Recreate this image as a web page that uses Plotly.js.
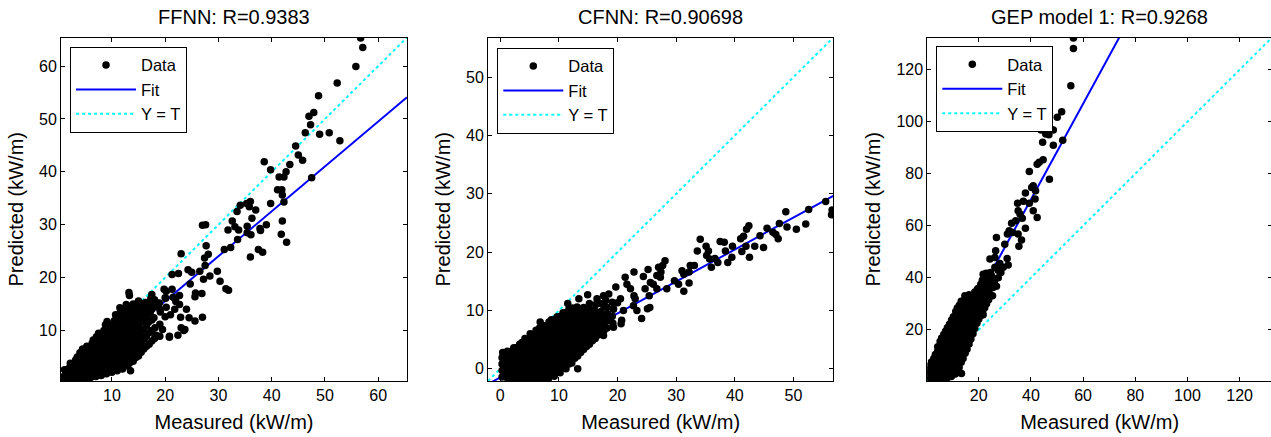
<!DOCTYPE html>
<html><head><meta charset="utf-8">
<script src="https://cdn.plot.ly/plotly-3.0.1.min.js"></script>
<style>html,body{margin:0;padding:0;overflow:hidden;background:#fff}#chart{width:1275px;height:437px}</style>
</head><body><div id="chart"></div><script>
// ---------- DATA ----------
const panelTitles = ['FFNN: R=0.9383', 'CFNN: R=0.90698', 'GEP model 1: R=0.9268'];
const xLabel = 'Measured (kW/m)';
const yLabel = 'Predicted (kW/m)';
const legendNames = ['Data', 'Fit', 'Y = T'];

const ffnnTicks = [10, 20, 30, 40, 50, 60];
const cfnnTicks = [0, 10, 20, 30, 40, 50];
const gepTicks = [20, 40, 60, 80, 100, 120];
const axisLimits = [[0.45, 65.4], [-2.1, 56.8], [0.3, 132.4]];

// regression fit: slope, intercept
const fitSlope = [0.849, 0.548, 1.84];
const fitIntercept = [-1.43, -1.48, -3.5];

// FFNN: [measured, predicted]
const ffnnPoints = [
[0.6,0.5],[0.7,1.2],[0.8,0.9],[1.2,0.6],[1.3,1.6],[1.1,2.6],[1.6,1.1],[1.6,2.1],[2,0.6],[2.1,1.6],[1.9,2.8],[2.2,3.8],[2.5,2.2],[2.5,1.1],[2.5,3.3],
[3,0.7],[3.1,1.9],[2.9,3.1],[3.2,4.4],[3.5,2.6],[3.5,1.3],[3.5,3.9],[3.5,5.0],[4,0.8],[4.1,2.0],[3.9,3.3],[4.2,4.6],[4.0,5.8],[4.5,1.4],
[4.5,2.8],[4.5,4.1],[4.5,5.3],[4.5,6.5],
[5,0.9],[5.1,2.2],[4.9,3.5],[5.2,4.8],[5.0,6.1],[5.3,7.0],[5.5,1.6],[5.5,2.9],[5.5,4.2],[5.5,5.5],[5.5,6.8],
[6,1.1],[6.1,2.4],[5.9,3.7],[6.2,5.0],[6.0,6.3],[6.3,7.6],[6.5,1.8],[6.5,3.1],[6.5,4.4],[6.5,5.7],[6.5,7.0],[6.5,8.2],
[7,1.3],[7.1,2.6],[6.9,3.9],[7.2,5.2],[7.0,6.5],[7.3,7.8],[7.1,8.8],[7.5,2.0],[7.5,3.3],[7.5,4.6],[7.5,5.9],[7.5,7.2],[7.5,8.5],[7.5,9.5],
[8,1.5],[8.1,2.8],[7.9,4.1],[8.2,5.4],[8.0,6.7],[8.3,8.0],[8.1,9.3],[8.5,2.2],[8.5,3.5],[8.5,4.8],[8.5,6.1],[8.5,7.4],[8.5,8.7],[8.5,10.0],
[9,1.8],[9.1,3.1],[8.9,4.4],[9.2,5.7],[9.0,7.0],[9.3,8.3],[9.1,9.6],[9.2,10.6],
[9.5,2.5],[9.5,3.8],[9.5,5.1],[9.5,6.4],[9.5,7.7],[9.5,9.0],[9.5,10.3],[9.5,11.2],
[10,2.1],[10.1,3.4],[9.9,4.7],[10.2,6.0],[10.0,7.3],[10.3,8.6],[10.1,9.9],[10.2,11.2],
[10.5,2.8],[10.5,4.1],[10.5,5.4],[10.5,6.7],[10.5,8.0],[10.5,9.3],[10.5,10.6],[10.5,11.9],
[11,2.4],[11.1,3.7],[10.9,5.0],[11.2,6.3],[11.0,7.6],[11.3,8.9],[11.1,10.2],[11.2,11.5],[11.0,12.4],
[11.5,3.1],[11.5,4.4],[11.5,5.7],[11.5,7.0],[11.5,8.3],[11.5,9.6],[11.5,10.9],[11.5,12.2],[11.5,13.3],
[12,2.7],[12.1,4.1],[11.9,5.4],[12.2,6.7],[12.0,8.0],[12.3,9.3],[12.1,10.6],[12.2,11.9],[12.0,13.2],
[12.5,3.6],[12.5,5.0],[12.5,6.3],[12.5,7.6],[12.5,8.9],[12.5,10.2],[12.5,11.5],[12.5,12.8],[12.5,14.0],
[13,3.3],[13.1,4.7],[12.9,6.0],[13.2,7.3],[13.0,8.6],[13.3,9.9],[13.1,11.2],[13.2,12.5],[13.0,13.8],
[13.5,4.0],[13.5,5.4],[13.5,6.7],[13.5,8.0],[13.5,9.3],[13.5,10.6],[13.5,11.9],[13.5,13.2],[13.5,14.5],
[14,4.2],[14.1,5.6],[13.9,7.0],[14.2,8.4],[14.0,9.8],[14.3,11.1],[14.1,12.5],[14.2,13.9],[14.0,15.0],
[14.5,4.9],[14.5,6.3],[14.5,7.7],[14.5,9.1],[14.5,10.5],[14.5,11.8],[14.5,13.2],[14.5,14.6],
[15,5.2],[15.1,6.8],[14.9,8.2],[15.2,9.6],[15.0,11.0],[15.3,12.4],[15.1,13.8],[15.2,15.2],
[15.5,5.9],[15.5,7.5],[15.5,8.9],[15.5,10.3],[15.5,11.7],[15.5,13.1],[15.5,14.5],
[16,6.5],[16.1,8.4],[15.9,10.2],[16.2,12.0],[16.0,13.6],[16.3,15.3],[16.5,7.0],[16.5,9.0],[16.5,10.9],[16.5,12.7],
[17,7.4],[17.1,9.6],[16.9,11.6],[17.2,13.4],[17.0,15.0],[17.5,8.0],[17.5,10.0],[17.5,12.0],[17.5,14.0],
[18,8.5],[18.1,10.5],[17.9,12.4],[18.2,14.6],[18.0,15.8],[19,11.2],[19.1,13.5],[18.9,15.2],[20,12.6],[20.2,14.4],
[56.7,65.3],[57.1,63.5],[55.8,59.9],[52.3,56.8],[48.8,54.4],[47.0,50.5],[47.9,51.2],[47.3,48.9],[46.3,47.4],[49.0,47.1],
[50.8,47.4],[52.8,45.9],[44.5,44.9],[45.0,43.2],[45.8,42.2],[43.4,41.4],[38.6,41.9],[39.8,40.4],[42.7,40.0],[41.4,39.0],
[42.3,39.0],[47.5,38.9],[41.1,36.6],[41.9,36.6],[42.0,35.6],[39.8,34.0],[42.3,34.3],[34.1,33.7],[35.3,34.0],[36.0,34.4],
[33.5,32.5],[37.0,32.8],[35.8,33.4],[36.3,31.2],[32.6,30.7],[35.4,29.7],[31.8,29.0],[33.1,29.6],[33.8,29.0],[27.0,29.9],
[27.6,30.0],[37.8,29.3],[37.9,28.9],[39.0,30.0],[35.4,28.5],[33.6,27.2],[36.1,28.1],[42.0,30.7],[41.8,28.2],[42.8,26.7],
[31.1,25.3],[32.3,25.7],[37.5,25.3],[38.3,24.8],[36.0,23.9],[23.0,24.5],[27.7,26.0],[27.4,23.7],[28.1,24.4],[27.5,22.3],
[24.3,21.5],[25.0,21.0],[29.8,21.2],[26.5,21.2],[28.4,20.3],[27.2,19.7],[30.3,19.3],[24.7,18.8],[31.4,17.9],[31.9,17.6],
[21.3,20.6],[22.5,20.8],[19.8,17.8],[21.3,17.8],[25.7,17.1],[26.9,17.0],[25.6,16.4],[22.7,16.6],[20.1,16.1],[21.5,16.3],
[13.2,17.2],[13.3,16.6],[17.3,16.0],[18.2,15.4],[22.7,14.9],[21.8,14.0],[22.9,12.5],[24.5,12.4],[25.6,11.8],[27.0,12.5],
[23.0,10.5],[22.4,9.1],[20.8,8.7],[19.5,10.2],[23.5,10.0],[18.3,9.1],[13.5,2.4],[9.1,11.7],[8.8,11.1],[10.7,13.0],
[12.7,14.9],[15.0,15.6],[11.5,14.3],[20.8,8.9],[19.0,8.9],[23.7,10.2],[20.2,17.4],[20.0,16.2],[11.8,13.0],[16.5,14.5],
[17.5,16.8],[19.0,14.0],[21.0,13.0],[22.0,15.5],[24.0,14.0]
];

// CFNN: [measured, predicted]
const cfnnPoints = [
[0.3,-1.4],[0.3,-0.3],[0.3,0.8],[0.3,1.9],[0.4,2.8],[0.8,-0.9],[0.8,0.2],[0.8,1.3],[0.8,2.4],
[1.2,-1.6],[1.2,-0.4],[1.1,0.8],[1.3,2.0],[1.2,3.0],[1.7,-1.0],[1.7,0.2],[1.7,1.4],[1.7,2.5],
[2.2,-1.7],[2.1,-0.5],[2.3,0.7],[2.2,1.9],[2.1,3.1],[2.3,3.6],[2.7,-1.1],[2.7,0.1],[2.7,1.3],[2.7,2.5],[2.7,3.6],
[3.2,-1.7],[3.1,-0.5],[3.3,0.7],[3.2,1.9],[3.1,3.1],[3.3,4.2],[3.7,-1.2],[3.7,0.0],[3.7,1.2],[3.7,2.4],[3.7,3.6],[3.7,4.5],
[4.2,-1.8],[4.1,-0.6],[4.3,0.6],[4.2,1.8],[4.1,3.0],[4.3,4.2],[4.2,5.2],[4.7,-1.2],[4.7,0.0],[4.7,1.2],[4.7,2.4],[4.7,3.6],[4.7,4.8],
[5.2,-1.8],[5.1,-0.6],[5.3,0.6],[5.2,1.8],[5.1,3.0],[5.3,4.2],[5.2,5.4],[5.1,6.0],
[5.7,-1.2],[5.7,0.0],[5.7,1.2],[5.7,2.4],[5.7,3.6],[5.7,4.8],[5.7,5.9],
[6.2,-1.8],[6.1,-0.6],[6.3,0.6],[6.2,1.8],[6.1,3.0],[6.3,4.2],[6.2,5.4],[6.1,6.6],
[6.7,-1.3],[6.7,-0.1],[6.7,1.1],[6.7,2.3],[6.7,3.5],[6.7,4.7],[6.7,5.9],[6.7,7.0],
[7.2,-1.9],[7.1,-0.7],[7.3,0.5],[7.2,1.7],[7.1,2.9],[7.3,4.1],[7.2,5.3],[7.1,6.5],[7.3,7.4],
[7.7,-1.3],[7.7,-0.1],[7.7,1.1],[7.7,2.3],[7.7,3.5],[7.7,4.7],[7.7,5.9],[7.7,7.0],
[8.2,-1.7],[8.1,-0.5],[8.3,0.7],[8.2,1.9],[8.1,3.1],[8.3,4.3],[8.2,5.5],[8.1,6.7],[8.3,8.0],
[8.7,-1.0],[8.7,0.2],[8.7,1.4],[8.7,2.6],[8.7,3.8],[8.7,5.0],[8.7,6.2],[8.7,7.4],[8.7,8.4],
[9.2,-1.3],[9.1,-0.1],[9.3,1.1],[9.2,2.3],[9.1,3.5],[9.3,4.7],[9.2,5.9],[9.1,7.1],[9.3,8.4],
[9.7,-0.5],[9.7,0.7],[9.7,1.9],[9.7,3.1],[9.7,4.3],[9.7,5.5],[9.7,6.7],[9.7,7.9],[9.7,8.9],
[10.2,-0.7],[10.1,0.5],[10.3,1.7],[10.2,2.9],[10.1,4.1],[10.3,5.3],[10.2,6.5],[10.1,7.7],[10.3,9.0],
[10.7,0.2],[10.7,1.4],[10.7,2.6],[10.7,3.8],[10.7,5.0],[10.7,6.2],[10.7,7.4],[10.7,8.6],[10.7,9.6],
[11.2,0.0],[11.1,1.2],[11.3,2.4],[11.2,3.6],[11.1,4.8],[11.3,6.0],[11.2,7.2],[11.1,8.4],[11.3,9.6],
[11.7,0.8],[11.7,2.0],[11.7,3.2],[11.7,4.4],[11.7,5.6],[11.7,6.8],[11.7,8.0],[11.7,9.2],[11.7,10.2],
[12.2,1.0],[12.1,2.2],[12.3,3.4],[12.2,4.6],[12.1,5.8],[12.3,7.0],[12.2,8.2],[12.1,9.4],[12.3,10.4],
[12.7,1.8],[12.7,3.0],[12.7,4.2],[12.7,5.4],[12.7,6.6],[12.7,7.8],[12.7,9.0],[12.7,10.2],
[13.2,2.2],[13.1,3.4],[13.3,4.6],[13.2,5.8],[13.1,7.0],[13.3,8.2],[13.2,9.4],[13.1,10.6],
[13.7,2.8],[13.7,4.0],[13.7,5.2],[13.7,6.4],[13.7,7.6],[13.7,8.8],[13.7,10.0],
[14.2,3.3],[14.1,4.5],[14.3,5.7],[14.2,6.9],[14.1,8.1],[14.3,9.3],[14.2,10.5],
[14.7,3.8],[14.7,5.0],[14.7,6.2],[14.7,7.4],[14.7,8.6],[14.7,9.8],
[15.2,4.2],[15.1,5.4],[15.3,6.6],[15.2,7.8],[15.1,9.0],[15.3,10.2],[15.2,11.2],
[15.7,4.8],[15.7,6.0],[15.7,7.2],[15.7,8.4],[15.7,9.6],
[16.2,5.2],[16.1,6.4],[16.3,7.6],[16.2,8.8],[16.1,10.0],[16.3,11.0],[16.7,5.8],[16.7,7.0],[16.7,8.2],[16.7,9.4],
[17.2,6.2],[17.1,7.4],[17.3,8.6],[17.2,9.8],[17.1,11.2],[17.7,6.6],[17.7,7.8],[17.7,9.0],
[18.2,7.0],[18.1,8.2],[18.3,9.4],[18.2,10.5],[19.2,7.8],[19.1,9.0],[19.3,10.2],
[56.6,27.2],[56.5,26.4],[55.5,28.7],[52.6,27.3],[52.1,24.8],[50.5,23.9],[48.7,26.9],[48.9,24.3],[47.6,24.9],[47.0,23.0],
[47.4,22.3],[45.5,24.1],[46.5,23.4],[44.9,20.8],[44.3,22.8],[43.4,21.0],[42.4,24.5],[42.0,23.9],[41.5,22.7],[41.0,22.3],
[41.9,21.0],[42.5,19.1],[41.2,20.1],[39.6,21.0],[39.5,19.1],[38.8,18.2],[38.2,21.7],[38.4,20.2],[37.5,21.8],[37.1,18.2],
[36.6,18.9],[36.0,17.4],[35.7,18.8],[35.2,19.4],[35.1,21.0],[35.5,20.2],[34.1,22.2],[33.6,20.2],[33.1,17.7],[32.4,17.7],
[32.2,16.6],[31.0,16.8],[31.3,16.2],[32.2,14.7],[31.3,13.3],[30.4,14.5],[29.7,15.1],[28.1,18.5],[27.7,17.7],[27.0,17.4],
[27.4,16.6],[26.7,16.0],[27.3,15.7],[28.4,13.7],[26.7,13.7],[26.1,14.5],[25.2,17.0],[24.4,15.8],[25.6,14.8],[25.4,12.5],
[24.7,13.7],[22.8,16.6],[21.3,15.7],[21.6,14.5],[22.2,13.7],[22.8,12.5],[22.7,10.8],[23.3,10.0],[24.1,8.6],[25.1,10.3],
[25.5,10.5],[19.7,14.0],[20.5,12.0],[20.0,11.3],[20.7,8.3],[20.6,7.7],[19.1,11.4],[19.3,10.3],[17.6,12.5],[18.0,11.7],
[17.6,10.9],[14.9,12.7],[13.4,12.0],[11.5,11.2],[13.2,0.0],[6.8,8.0],[18.8,8.8],[19.3,7.1],[17.6,5.7],[16.8,6.8],
[15.9,6.3],[21.0,10.0],[23.0,12.0],[16.5,12.0],[18.5,12.8]
];

// GEP model 1: [measured, predicted]
const gepPoints = [
[0.6,0.6],[0.6,2.5],[0.7,4.5],[1.3,1.7],[1.3,3.9],[1.3,6.2],[2,0.8],[2,3.0],[2.1,5.4],[1.9,7.6],[2.8,2.0],[2.8,4.3],[2.8,6.6],[2.8,9.0],
[3.5,1.0],[3.4,3.4],[3.6,5.8],[3.5,8.2],[3.4,10.5],[4.3,2.2],[4.3,4.6],[4.3,7.0],[4.3,9.4],[4.3,11.8],[4.3,13.5],
[5,1.2],[5.1,3.6],[4.9,6.0],[5,8.4],[5.1,10.8],[4.9,13.2],[5.2,15.5],[5.8,2.4],[5.8,4.8],[5.8,7.2],[5.8,9.6],[5.8,12.0],[5.8,14.4],[5.8,16.8],
[6.5,1.4],[6.6,3.8],[6.4,6.2],[6.5,8.6],[6.6,11.0],[6.4,13.4],[6.5,15.8],[6.6,18.2],
[7.3,2.6],[7.3,5.0],[7.3,7.4],[7.3,9.8],[7.3,12.2],[7.3,14.6],[7.3,17.0],[7.3,19.4],
[8,1.6],[8.1,4.0],[7.9,6.4],[8,8.8],[8.1,11.2],[7.9,13.6],[8,16.0],[8.1,18.4],[8,20.8],
[8.8,2.9],[8.8,5.3],[8.8,7.7],[8.8,10.1],[8.8,12.5],[8.8,14.9],[8.8,17.3],[8.8,19.7],[8.8,22.1],
[9.5,2.0],[9.6,4.4],[9.4,6.8],[9.5,9.2],[9.6,11.6],[9.4,14.0],[9.5,16.4],[9.6,18.8],[9.4,21.2],[9.6,23.8],
[10.3,3.5],[10.3,5.9],[10.3,8.3],[10.3,10.7],[10.3,13.1],[10.3,15.5],[10.3,17.9],[10.3,20.3],[10.3,22.7],[10.3,25.0],
[11,3.0],[11.1,5.4],[10.9,7.8],[11,10.2],[11.1,12.6],[10.9,15.0],[11,17.4],[11.1,19.8],[10.9,22.2],[11,24.8],[11.2,27.0],
[11.8,4.5],[11.8,6.9],[11.8,9.3],[11.8,11.7],[11.8,14.1],[11.8,16.5],[11.8,18.9],[11.8,21.3],[11.8,23.7],[11.8,26.1],[11.8,28.4],
[12.5,5.5],[12.6,7.9],[12.4,10.3],[12.5,12.7],[12.6,15.1],[12.4,17.5],[12.5,19.9],[12.6,22.3],[12.4,24.7],[12.5,27.1],[12.6,29.4],
[13.3,7.5],[13.3,9.9],[13.3,12.3],[13.3,14.7],[13.3,17.1],[13.3,19.5],[13.3,21.9],[13.3,24.3],[13.3,26.7],[13.3,29.1],[13.3,31.0],
[14,9.0],[14.1,11.4],[13.9,13.8],[14,16.2],[14.1,18.6],[13.9,21.0],[14,23.4],[14.1,25.8],[13.9,28.2],[14,30.6],
[14.8,11.0],[14.8,13.4],[14.8,15.8],[14.8,18.2],[14.8,20.6],[14.8,23.0],[14.8,25.4],[14.8,27.8],[14.8,30.2],[14.8,32.0],
[15.5,12.5],[15.6,14.9],[15.4,17.3],[15.5,19.7],[15.6,22.1],[15.4,24.5],[15.5,26.9],[15.6,29.3],[15.4,31.7],
[16.3,14.5],[16.3,16.9],[16.3,19.3],[16.3,21.7],[16.3,24.1],[16.3,26.5],[16.3,28.9],[16.3,31.3],[16.3,33.5],
[17,16.5],[17.1,18.9],[16.9,21.3],[17,23.7],[17.1,26.1],[16.9,28.5],[17,30.9],[17.1,33.0],
[17.8,18.5],[17.8,20.9],[17.8,23.3],[17.8,25.7],[17.8,28.1],[17.8,30.5],[17.8,32.9],
[18.5,20.5],[18.6,22.9],[18.4,25.3],[18.5,27.7],[18.6,30.1],[18.4,32.5],[18.5,34.5],
[19.3,22.5],[19.3,24.9],[19.3,27.3],[19.3,29.7],[19.3,32.1],[19.3,34.5],
[20,24.0],[20.1,26.4],[19.9,28.8],[20,31.2],[20.1,33.6],[19.9,36.0],
[20.8,25.5],[20.8,27.9],[20.8,30.3],[20.8,32.7],[20.8,35.1],[20.8,37.5],
[21.5,27.0],[21.6,29.4],[21.4,31.8],[21.5,34.2],[21.6,37.0],[21.4,39.0],
[22.3,28.5],[22.3,30.9],[22.3,33.3],[22.3,35.7],[22.3,38.2],
[23,30.0],[23.1,32.4],[22.9,35.0],[23,38.0],[23.1,40.5],[23.8,31.5],[23.8,34.0],[23.8,37.0],[23.8,40.0],
[24.5,33.0],[24.6,36.0],[24.4,39.5],[24.5,42.0],
[56.3,132.2],[56.3,128.2],[55.3,113.8],[51.8,103.8],[50.1,101.7],[47.6,97.2],[45.7,95.3],[48.6,96.8],[43.9,96.8],[44.8,97.8],
[46.9,95.0],[52.2,92.9],[48.6,91.0],[44.5,92.1],[42.4,83.7],[43.2,84.4],[44.7,85.4],[39.4,80.9],[47.1,77.9],[40.9,75.4],
[40.3,74.7],[41.8,73.5],[41.6,70.3],[37.9,72.6],[37.1,69.4],[39.4,68.7],[34.9,68.7],[35.1,65.8],[35.8,64.5],[40.9,65.8],
[42.4,63.2],[34.2,61.9],[36.7,62.9],[32.6,61.0],[31.7,58.1],[33.0,57.4],[31.0,56.8],[37.9,59.0],[35.1,56.8],[36.4,54.5],
[35.4,52.1],[26.8,55.5],[30.0,52.9],[26.5,50.4],[24.3,47.2],[26.2,47.8],[30.9,47.4],[28.1,45.5],[29.4,44.0],[31.3,44.9],
[26.2,44.0],[27.4,42.9],[21.7,41.4],[22.9,41.7],[24.9,40.8],[23.6,39.5],[25.5,36.3],[26.8,36.7],[22.0,33.7],[25.3,33.1],
[21.7,25.8],[14.7,33.1],[19.5,35.6],[13.4,3.2],[27.5,40.0],[28.5,42.0],[22.5,37.5],[26.0,38.5]
];

// ---------- BUILD ----------
const FONT = 'Arial, "Liberation Sans", Helvetica, sans-serif';
const W = 1275, H = 437;
const panels = [
  {pts: ffnnPoints, ticks: ffnnTicks, x0: 61, x1: 407},
  {pts: cfnnPoints, ticks: cfnnTicks, x0: 488, x1: 833.3},
  {pts: gepPoints, ticks: gepTicks, x0: 927.3, x1: 1272}
];
const yTop = 37.5, yBot = 381;
const legendBoxes = [[70, 46.7], [497.3, 47.7], [936.3, 46]];

const traces = [];
const layout = {
  width: W, height: H, margin: {l: 0, r: 0, t: 0, b: 0},
  paper_bgcolor: '#fff', plot_bgcolor: '#fff',
  font: {family: FONT, color: '#000'},
  annotations: [], showlegend: true
};

panels.forEach((p, i) => {
  const n = i === 0 ? '' : String(i + 1);
  const xa = 'x' + n, ya = 'y' + n;
  const lim = axisLimits[i];
  const leg = 'legend' + n;
  traces.push({x: lim, y: lim, xaxis: xa, yaxis: ya, mode: 'lines', name: legendNames[2],
    line: {color: '#00ffff', width: 2, dash: 'dot'}, legend: leg, legendrank: 3, hoverinfo: 'skip'});
  traces.push({x: lim, y: lim.map(v => fitSlope[i] * v + fitIntercept[i]), xaxis: xa, yaxis: ya, mode: 'lines',
    name: legendNames[1], line: {color: '#0000ff', width: 2}, legend: leg, legendrank: 2, hoverinfo: 'skip'});
  traces.push({x: p.pts.map(d => d[0]), y: p.pts.map(d => d[1]), xaxis: xa, yaxis: ya, mode: 'markers',
    name: legendNames[0], marker: {color: '#000', size: 7.5, line: {width: 0}}, legend: leg, legendrank: 1,
    cliponaxis: true});

  const common = {range: lim, tickvals: p.ticks, ticks: 'inside', ticklen: 4, tickcolor: '#000',
    mirror: 'ticks', showline: true, linecolor: '#000', linewidth: 1, showgrid: false, zeroline: false,
    tickfont: {family: FONT, size: 16, color: '#000'}, fixedrange: true};
  layout['xaxis' + n] = Object.assign({}, common, {
    domain: [p.x0 / W, p.x1 / W], anchor: ya,
    title: {text: xLabel, font: {family: FONT, size: 20, color: '#000'}, standoff: 11}
  });
  layout['yaxis' + n] = Object.assign({}, common, {
    domain: [(H - yBot) / H, (H - yTop) / H], anchor: xa,
    title: {text: yLabel, font: {family: FONT, size: 20, color: '#000'}, standoff: 9.5}
  });
  layout[leg] = {x: legendBoxes[i][0] / W, y: (H - legendBoxes[i][1]) / H, xanchor: 'left', yanchor: 'top',
    bgcolor: '#fff', bordercolor: '#000', borderwidth: 1, font: {family: FONT, size: 16.5, color: '#000'},
    itemwidth: 60, tracegroupgap: 0, traceorder: 'normal'};
  layout.annotations.push({text: panelTitles[i], xref: 'paper', yref: 'paper',
    x: (p.x0 + p.x1) / 2 / W, y: (H - 16.7) / H, xanchor: 'center', yanchor: 'middle', showarrow: false,
    font: {family: FONT, size: 20, color: '#000'}});
});

Plotly.newPlot('chart', traces, layout, {staticPlot: true, displayModeBar: false});
</script></body></html>
